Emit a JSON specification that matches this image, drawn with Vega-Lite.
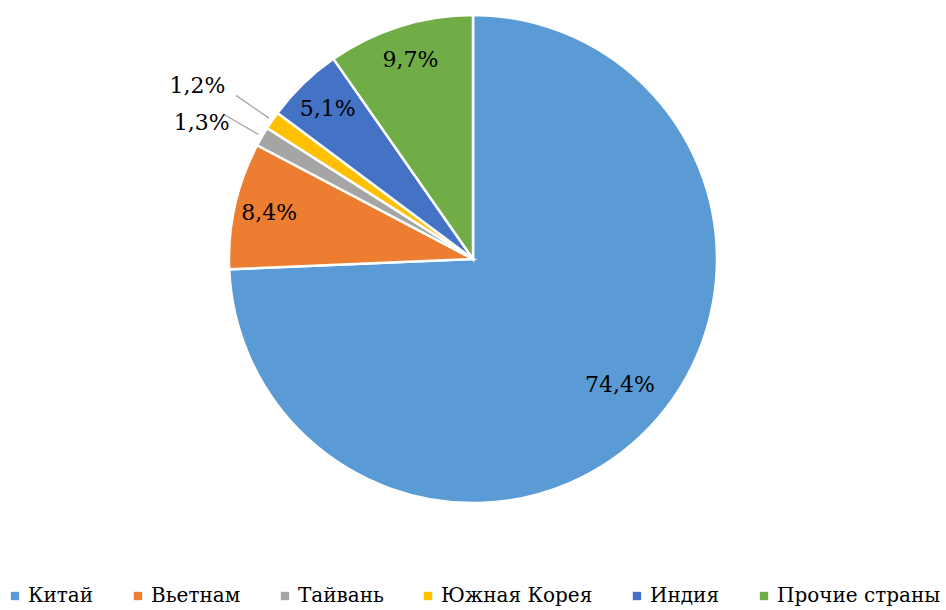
{
  "$schema": "https://vega.github.io/schema/vega-lite/v6.json",
  "width": 946,
  "height": 518,
  "autosize": "none",
  "padding": {"left": 0, "top": 0, "right": 0, "bottom": 92},
  "background": "white",
  "config": {"view": {"stroke": null}, "font": "DejaVu Serif"},
  "data": {
    "values": [
      {"country": "Китай", "share": 74.4, "label": "74,4%", "order": 1},
      {"country": "Вьетнам", "share": 8.4, "label": "8,4%", "order": 2},
      {"country": "Тайвань", "share": 1.3, "label": "1,3%", "order": 3},
      {"country": "Южная Корея", "share": 1.2, "label": "1,2%", "order": 4},
      {"country": "Индия", "share": 5.1, "label": "5,1%", "order": 5},
      {"country": "Прочие страны", "share": 9.7, "label": "9,7%", "order": 6}
    ]
  },
  "encoding": {
    "theta": {"field": "share", "type": "quantitative", "stack": true},
    "order": {"field": "order", "type": "quantitative"}
  },
  "layer": [
    {
      "mark": {"type": "arc", "outerRadius": 244, "stroke": "white", "strokeWidth": 2.5},
      "encoding": {
        "color": {
          "field": "country",
          "type": "nominal",
          "sort": ["Китай", "Вьетнам", "Тайвань", "Южная Корея", "Индия", "Прочие страны"],
          "scale": {
            "domain": ["Китай", "Вьетнам", "Тайвань", "Южная Корея", "Индия", "Прочие страны"],
            "range": ["#5B9BD5", "#ED7D31", "#A5A5A5", "#FFC000", "#4472C4", "#70AD47"]
          },
          "legend": {
            "title": null,
            "orient": "none",
            "legendX": 5,
            "legendY": 586,
            "direction": "horizontal",
            "symbolType": "square",
            "symbolSize": 70,
            "symbolStrokeWidth": 0,
            "labelFont": "DejaVu Serif",
            "labelFontSize": 20,
            "labelColor": "#000000",
            "labelOffset": 3,
            "columnPadding": 34,
            "labelLimit": 400
          }
        }
      }
    },
    {
      "mark": {"type": "arc", "outerRadius": 288, "innerRadius": 248, "padAngle": 1, "fillOpacity": 0, "stroke": "#A6A6A6", "strokeWidth": 1.3},
      "encoding": {
        "strokeOpacity": {
          "condition": {"test": "datum.country === 'Тайвань' || datum.country === 'Южная Корея'", "value": 1},
          "value": 0
        }
      }
    },
    {
      "mark": {"type": "text", "radius": 194, "dx": 7, "dy": -8, "font": "DejaVu Serif", "fontSize": 22, "color": "#000000"},
      "encoding": {
        "text": {"field": "label"},
        "opacity": {"condition": {"test": "datum.country === 'Китай'", "value": 1}, "value": 0}
      }
    },
    {
      "mark": {"type": "text", "radius": 209, "font": "DejaVu Serif", "fontSize": 22, "color": "#000000"},
      "encoding": {
        "text": {"field": "label"},
        "opacity": {"condition": {"test": "datum.country === 'Вьетнам' || datum.country === 'Индия' || datum.country === 'Прочие страны'", "value": 1}, "value": 0}
      }
    },
    {
      "mark": {"type": "text", "radius": 302, "dx": -10, "dy": 16, "font": "DejaVu Serif", "fontSize": 22, "color": "#000000"},
      "encoding": {
        "text": {"field": "label"},
        "opacity": {"condition": {"test": "datum.country === 'Тайвань'", "value": 1}, "value": 0}
      }
    },
    {
      "mark": {"type": "text", "radius": 325, "dx": -8, "dy": 12, "font": "DejaVu Serif", "fontSize": 22, "color": "#000000"},
      "encoding": {
        "text": {"field": "label"},
        "opacity": {"condition": {"test": "datum.country === 'Южная Корея'", "value": 1}, "value": 0}
      }
    }
  ]
}
